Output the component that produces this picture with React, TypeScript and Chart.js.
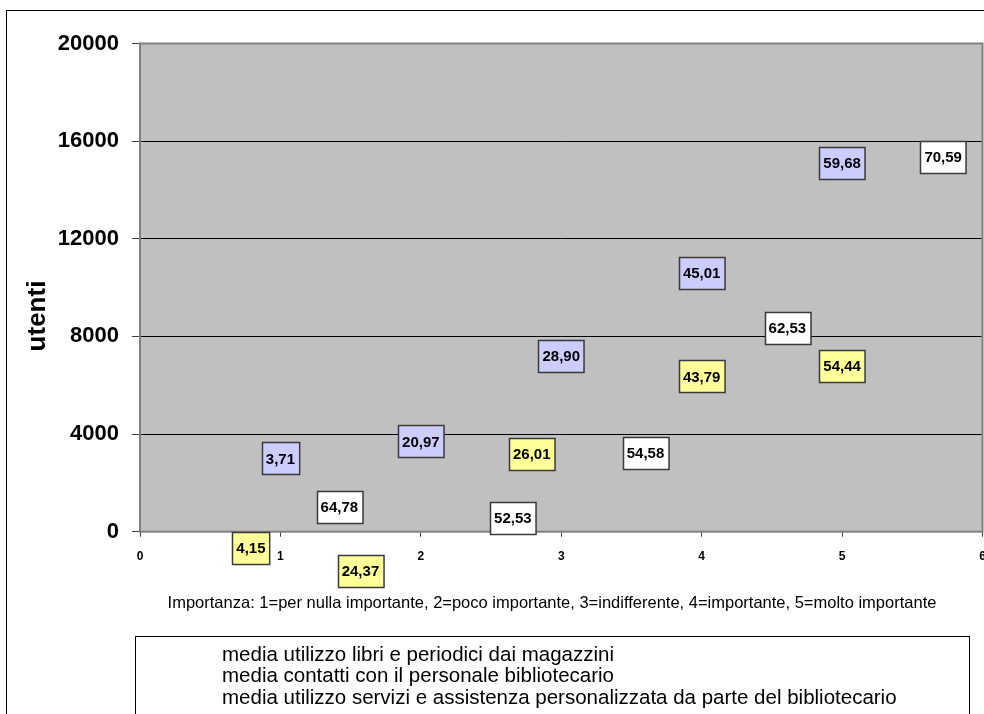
import React, { useEffect, useRef } from "react";
import { Chart, registerables } from "chart.js";

Chart.register(...registerables);

// ---- Data ----
const SERIES_NAMES = [
  "media utilizzo libri e periodici dai magazzini",
  "media contatti con il personale bibliotecario",
  "media utilizzo servizi e assistenza personalizzata da parte del bibliotecario",
];
const X_TITLE =
  "Importanza: 1=per nulla importante, 2=poco importante, 3=indifferente, 4=importante, 5=molto importante";
const Y_TITLE = "utenti";
const X_TICKS = [0, 1, 2, 3, 4, 5, 6];
const Y_TICKS = [0, 4000, 8000, 12000, 16000, 20000];

// label anchor positions (importance, users) and their shown percentages
const magazziniX = [1, 2, 3, 4, 5];
const magazziniY = [3000, 3700, 7190, 10600, 15110];
const magazziniLabels = ["3,71", "20,97", "28,90", "45,01", "59,68"];

const personaleX = [0.79, 1.57, 2.79, 4.0, 5.0];
const personaleY = [-650, -1590, 3175, 6360, 6800];
const personaleLabels = ["4,15", "24,37", "26,01", "43,79", "54,44"];

const serviziX = [1.42, 2.655, 3.6, 4.61, 5.72];
const serviziY = [1030, 550, 3225, 8365, 15370];
const serviziLabels = ["64,78", "52,53", "54,58", "62,53", "70,59"];

const BOX_COLORS = ["#CCCCFF", "#FFFF99", "#FFFFFF"];

const FONT = '"Liberation Sans", Arial, sans-serif';

const toPoints = (xs: number[], ys: number[]) => xs.map((x, i) => ({ x, y: ys[i] }));

const decorPlugin = {
  id: "decor",
  beforeDraw(chart: any) {
    const { ctx, chartArea: a } = chart;
    ctx.save();
    ctx.fillStyle = "#FFFFFF";
    ctx.fillRect(0, 0, chart.width, chart.height);
    ctx.fillStyle = "#C0C0C0";
    ctx.fillRect(a.left, a.top, a.right - a.left, a.bottom - a.top);
    ctx.restore();
  },
  beforeDatasetsDraw(chart: any) {
    const { ctx, chartArea: a } = chart;
    ctx.save();
    ctx.strokeStyle = "#808080";
    ctx.lineWidth = 2;
    ctx.strokeRect(a.left, a.top, a.right - a.left, a.bottom - a.top);
    ctx.restore();
  },
  afterDatasetsDraw(chart: any) {
    const ctx = chart.ctx;
    ctx.save();
    ctx.font = `bold 15px ${FONT}`;
    chart.data.datasets.forEach((ds: any, i: number) => {
      const meta = chart.getDatasetMeta(i);
      meta.data.forEach((pt: any, j: number) => {
        const text = ds.pointLabels[j];
        const w = ctx.measureText(text).width + 8;
        const h = 32;
        const x = Math.round(pt.x - w / 2) + 0.5;
        const y = Math.round(pt.y - h / 2) + 0.5;
        ctx.fillStyle = ds.boxColor;
        ctx.fillRect(x, y, w, h);
        ctx.strokeStyle = "#3a3a3a";
        ctx.lineWidth = 1.5;
        ctx.strokeRect(x, y, w, h);
        ctx.fillStyle = "#000";
        ctx.textAlign = "center";
        ctx.textBaseline = "middle";
        ctx.fillText(text, pt.x, pt.y + 1);
      });
    });
    ctx.restore();
  },
  afterDraw(chart: any) {
    const ctx = chart.ctx;
    ctx.save();
    // outer chart border
    ctx.strokeStyle = "#000";
    ctx.lineWidth = 1;
    ctx.strokeRect(6.5, 10.5, 1200, 1000);
    // y title
    ctx.fillStyle = "#000";
    ctx.font = `bold 26px ${FONT}`;
    ctx.textAlign = "center";
    ctx.textBaseline = "middle";
    ctx.translate(38, 316);
    ctx.rotate(-Math.PI / 2);
    ctx.fillText(Y_TITLE, 0, 0);
    ctx.restore();

    ctx.save();
    ctx.fillStyle = "#000";
    ctx.font = `16.5px ${FONT}`;
    ctx.textAlign = "center";
    ctx.textBaseline = "middle";
    ctx.fillText(X_TITLE, 552, 603);
    // legend
    ctx.strokeStyle = "#000";
    ctx.lineWidth = 1;
    ctx.strokeRect(135.5, 636.5, 834, 200);
    ctx.font = `20.5px ${FONT}`;
    ctx.textAlign = "left";
    chart.data.datasets.forEach((ds: any, i: number) => {
      ctx.fillText(ds.label, 222, 655 + i * 21.5);
    });
    ctx.restore();
  },
};

export default function App() {
  const ref = useRef<HTMLCanvasElement | null>(null);

  useEffect(() => {
    if (!ref.current) return;
    const chart = new Chart(ref.current, {
      type: "scatter",
      data: {
        datasets: [
          {
            label: SERIES_NAMES[0],
            data: toPoints(magazziniX, magazziniY),
            pointLabels: magazziniLabels,
            boxColor: BOX_COLORS[0],
            pointRadius: 0,
            pointHoverRadius: 0,
          } as any,
          {
            label: SERIES_NAMES[1],
            data: toPoints(personaleX, personaleY),
            pointLabels: personaleLabels,
            boxColor: BOX_COLORS[1],
            pointRadius: 0,
            pointHoverRadius: 0,
          } as any,
          {
            label: SERIES_NAMES[2],
            data: toPoints(serviziX, serviziY),
            pointLabels: serviziLabels,
            boxColor: BOX_COLORS[2],
            pointRadius: 0,
            pointHoverRadius: 0,
          } as any,
        ],
      },
      options: {
        responsive: false,
        animation: false,
        devicePixelRatio: 1,
        events: [],
        clip: false as any,
        layout: { padding: { left: 0, top: 43.5, right: 17.5, bottom: 142.3 } },
        plugins: { legend: { display: false }, tooltip: { enabled: false } },
        scales: {
          x: {
            type: "linear",
            min: X_TICKS[0],
            max: X_TICKS[X_TICKS.length - 1],
            afterFit: (s: any) => {
              s.height = 40;
            },
            afterBuildTicks: (s: any) => {
              s.ticks = X_TICKS.map((v) => ({ value: v }));
            },
            ticks: {
              color: "#000",
              font: { family: FONT, size: 12, weight: "bold" },
              padding: 13,
              maxRotation: 0,
              callback: (v: any) => String(v),
            },
            grid: {
              drawOnChartArea: false,
              tickLength: 5,
              tickColor: "#404040",
            },
            border: { display: false },
          },
          y: {
            type: "linear",
            min: Y_TICKS[0],
            max: Y_TICKS[Y_TICKS.length - 1],
            afterFit: (s: any) => {
              s.width = 140;
            },
            afterBuildTicks: (s: any) => {
              s.ticks = Y_TICKS.map((v) => ({ value: v }));
            },
            ticks: {
              color: "#000",
              font: { family: FONT, size: 22, weight: "bold" },
              padding: 13,
              callback: (v: any) => String(v),
            },
            grid: {
              color: "#000",
              lineWidth: 1,
              tickLength: 8,
              tickColor: "#404040",
            },
            border: { display: false },
          },
        },
      },
      plugins: [decorPlugin],
    });
    return () => chart.destroy();
  }, []);

  return (
    <div
      style={{
        position: "fixed",
        left: 0,
        top: 0,
        width: 984,
        height: 714,
        overflow: "hidden",
        background: "#fff",
      }}
    >
      <canvas ref={ref} width={1000} height={714} style={{ width: 1000, height: 714, display: "block" }} />
    </div>
  );
}
